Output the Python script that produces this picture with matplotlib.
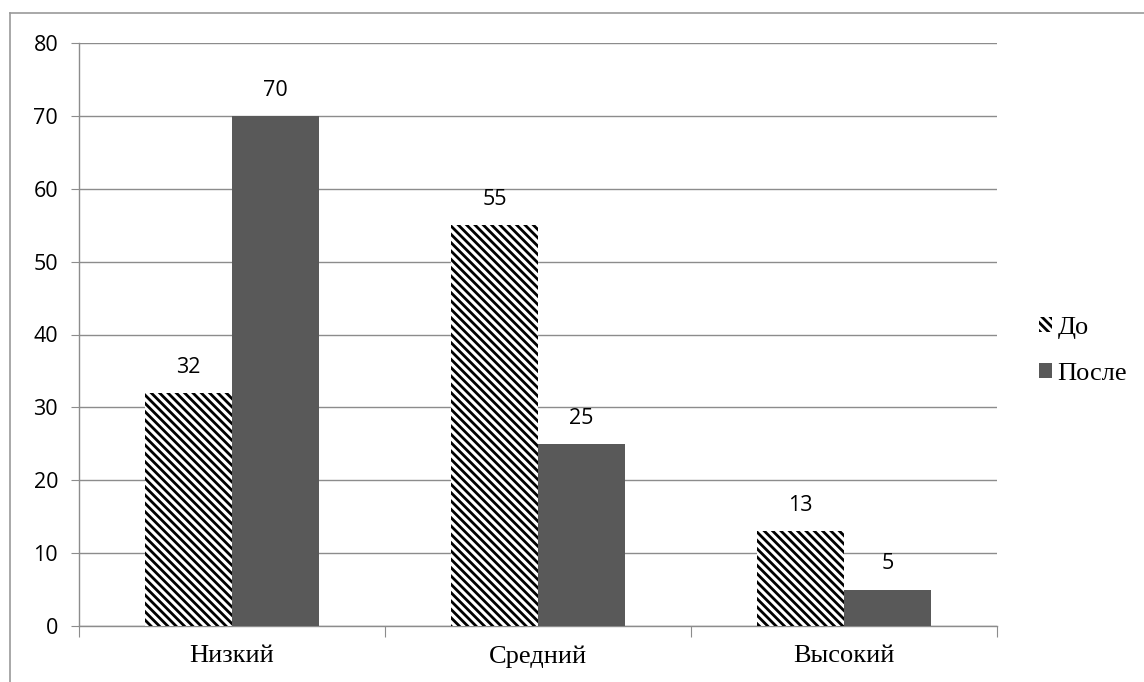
import numpy as np
import matplotlib
matplotlib.use("Agg")
import matplotlib.pyplot as plt
from matplotlib.lines import Line2D

categories = ["Низкий", "Средний", "Высокий"]
before = [32, 55, 13]
after = [70, 25, 5]
series_names = ["До", "После"]

plt.rcParams['hatch.linewidth'] = 2.0
plt.rcParams['hatch.color'] = 'black'

grid_col = '#8c8c8c'
num_font = ['Open Sans', 'DejaVu Sans']
txt_font = ['Liberation Serif', 'DejaVu Serif']

fig = plt.figure(figsize=(11.44, 6.82), dpi=100)
ax = fig.add_axes([79/1144, 1-626/682, (997-79)/1144, (626-43)/682])

x = np.arange(len(categories))
w = 0.284
b1 = ax.bar(x - w/2, before, width=w, color='white', edgecolor='black', linewidth=0,
            hatch='\\\\\\\\', label=series_names[0], zorder=3)
b2 = ax.bar(x + w/2, after, width=w, color='#595959', linewidth=0,
            label=series_names[1], zorder=3)

# value labels above each bar
for bars, vals in ((b1, before), (b2, after)):
    for r, v in zip(bars, vals):
        ax.annotate(str(v), (r.get_x() + r.get_width()/2, v), xytext=(0, 11),
                    textcoords='offset points', ha='center', va='bottom',
                    fontsize=15.5, family=num_font)

ax.set_xlim(-0.5, 2.5)
ax.set_ylim(0, 80)
ax.set_yticks(np.arange(0, 81, 10))
ax.yaxis.grid(True, color=grid_col, linewidth=1)
ax.set_axisbelow(True)
for s in ('top', 'right'):
    ax.spines[s].set_visible(False)
for s in ('left', 'bottom'):
    ax.spines[s].set_color(grid_col)
    ax.spines[s].set_linewidth(1)

ax.tick_params(axis='y', length=6, color=grid_col, labelsize=15.5, pad=9)
for lab in ax.get_yticklabels():
    lab.set_family(num_font)

# group boundaries as major ticks, category names as minor ticks
ax.set_xticks(np.arange(-0.5, 2.6, 1))
ax.set_xticklabels([])
ax.set_xticks(x, minor=True)
ax.set_xticklabels(categories, minor=True, fontsize=19, family=txt_font)
ax.tick_params(axis='x', which='major', length=8, color=grid_col)
ax.tick_params(axis='x', which='minor', length=0, pad=14)

leg = fig.legend(handles=[b1, b2], labels=series_names, loc='center left',
                 bbox_to_anchor=(1039/1144, 1-351/682), frameon=False,
                 prop={'family': txt_font, 'size': 19}, handlelength=0.5,
                 handleheight=0.5, handletextpad=0.2, labelspacing=0.9,
                 borderpad=0, borderaxespad=0)

# outer chart border
fig.add_artist(Line2D([10/1144, 10/1144], [0, 1-13/682], color='#9a9a9a', lw=1.2,
                      transform=fig.transFigure))
fig.add_artist(Line2D([10/1144, 1], [1-13/682, 1-13/682], color='#9a9a9a', lw=1.2,
                      transform=fig.transFigure))

fig.savefig("out.png", dpi=100)
